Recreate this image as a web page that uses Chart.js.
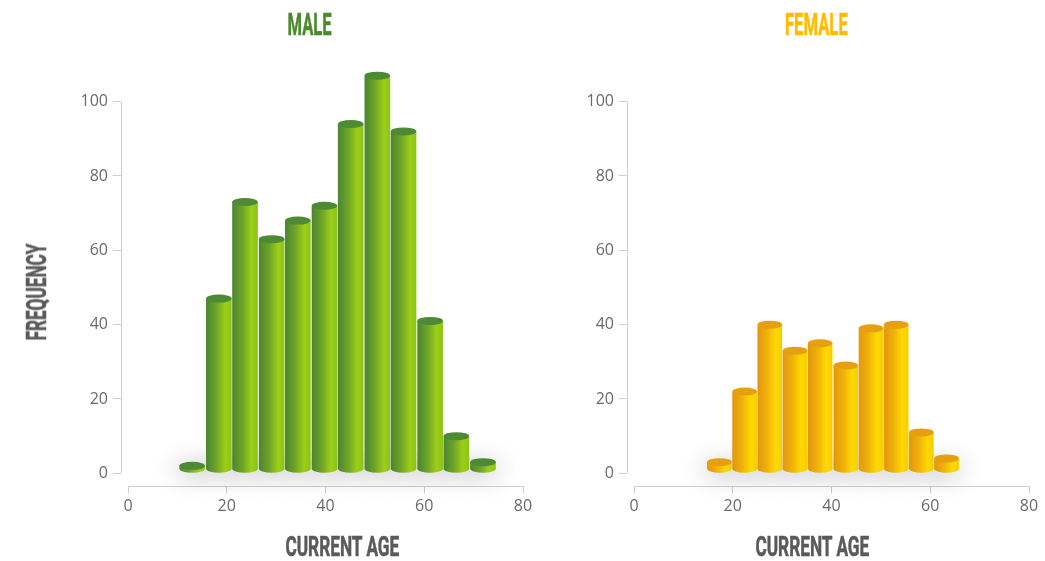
<!DOCTYPE html>
<html>
<head>
<meta charset="utf-8">
<script src="https://cdn.jsdelivr.net/npm/chart.js@4.4.0/dist/chart.umd.min.js"></script>
<style>
  html,body{margin:0;padding:0;background:#fff;}
  body{width:1045px;height:561px;overflow:hidden;position:relative;}
  canvas{position:absolute;top:0;}
  .lbl{position:absolute;font-family:Roboto,'DejaVu Sans',sans-serif;font-weight:700;white-space:nowrap;line-height:1;left:0;top:0;}
</style>
</head>
<body>
<canvas id="male" width="540" height="561" style="left:0px"></canvas>
<canvas id="female" width="523" height="561" style="left:522px"></canvas>
<script>
// ---------- data ----------
const maleBinCenters   = [13.0, 18.4, 23.7, 29.1, 34.4, 39.8, 45.1, 50.5, 55.8, 61.2, 66.5, 71.9];
const maleCounts       = [2, 47, 73, 63, 68, 72, 94, 107, 92, 41, 10, 3];
const femaleBinCenters = [17.3, 22.4, 27.5, 32.6, 37.7, 42.9, 48.0, 53.1, 58.2, 63.3];
const femaleCounts     = [3, 22, 40, 33, 35, 29, 39, 40, 11, 4];
const yTickValues = [0, 20, 40, 60, 80, 100];
const xTickValues = [0, 20, 40, 60, 80];

// ---------- styles ----------
const GREEN = {top:'#4e8a35', stops:[[0,'#4b8531'],[0.4,'#6ea428'],[0.75,'#9ccf17'],[1,'#8cc21a']]};
const GOLD  = {top:'#e6a00f', stops:[[0,'#e2960f'],[0.4,'#efb20b'],[0.75,'#ffd900'],[1,'#f6cc04']]};

Chart.defaults.font.family = "'Open Sans', sans-serif";
Chart.defaults.font.size = 16;
Chart.defaults.color = '#6a6a6a';

const cylinderPlugin = {
  id: 'cylinders',
  afterDatasetsDraw(chart) {
    const ctx = chart.ctx;
    const meta = chart.getDatasetMeta(0);
    const style = chart.options.plugins.cylinders.style;
    const ry = 4;
    // soft base shadow (shape drawn off-screen, only its shadow is visible)
    meta.data.forEach(bar => {
      const p = bar.getProps(['x','y','base','width'], true);
      ctx.save();
      ctx.shadowColor = 'rgba(0,0,0,0.22)';
      ctx.shadowBlur = 24;
      ctx.shadowOffsetX = 10000;
      ctx.shadowOffsetY = 2;
      ctx.fillStyle = '#000';
      ctx.beginPath();
      ctx.ellipse(p.x - 10000, p.base - 5, p.width/2 + 5, 8, 0, 0, Math.PI*2);
      ctx.fill();
      ctx.restore();
    });
    meta.data.forEach(bar => {
      const p = bar.getProps(['x','y','base','width'], true);
      const w = p.width, rx = w/2;
      const left = p.x - rx, right = p.x + rx;
      const top = p.y;
      const bottom = p.base - ry;
      const g = ctx.createLinearGradient(left, 0, right, 0);
      style.stops.forEach(s => g.addColorStop(s[0], s[1]));
      ctx.save();
      ctx.fillStyle = g;
      ctx.beginPath();
      ctx.moveTo(left, top);
      ctx.lineTo(left, bottom);
      ctx.ellipse(p.x, bottom, rx, ry, 0, Math.PI, 0, true);
      ctx.lineTo(right, top);
      ctx.closePath();
      ctx.fill();
      // top face
      ctx.fillStyle = style.top;
      ctx.beginPath();
      ctx.ellipse(p.x, top, rx, ry, 0, 0, Math.PI*2);
      ctx.fill();
      ctx.restore();
    });
  }
};

const axisLinePlugin = {
  id: 'axisLines',
  beforeDatasetsDraw(chart) {
    const {ctx, chartArea, scales:{x, y}} = chart;
    ctx.save();
    ctx.strokeStyle = '#cfcfcf';
    ctx.lineWidth = 1;
    ctx.beginPath();
    const ax = Math.round(chartArea.left) + 0.5;
    ctx.moveTo(ax, y.getPixelForValue(yTickValues[0]));
    ctx.lineTo(ax, y.getPixelForValue(yTickValues[yTickValues.length-1]));
    const ay = Math.round(chartArea.bottom) + 0.5;
    ctx.moveTo(x.getPixelForValue(xTickValues[0]), ay);
    ctx.lineTo(x.getPixelForValue(xTickValues[xTickValues.length-1]), ay);
    ctx.stroke();
    ctx.restore();
  }
};

function makeChart(id, centers, counts, style, yAxisWidth, padRight) {
  const pts = centers.map((c, i) => ({x: c, y: counts[i]}));
  return new Chart(document.getElementById(id), {
    type: 'bar',
    data: { datasets: [{ data: pts, backgroundColor: 'rgba(0,0,0,0)', borderWidth: 0,
                         barPercentage: 0.98, categoryPercentage: 1 }] },
    options: {
      responsive: false, animation: false,
      layout: { padding: { left: 0, right: padRight, top: 64.5, bottom: 45.3 } },
      plugins: { legend: {display:false}, tooltip: {enabled:false}, title:{display:false},
                 cylinders: { style } },
      scales: {
        x: {
          type: 'linear', min: -1.42, max: 80, offset: false,
          grid: { offset: false, drawOnChartArea: false, drawTicks: true, tickLength: 8, color: '#cfcfcf' },
          border: { display: false },
          ticks: { autoSkip: false, padding: 3, maxRotation: 0 },
          afterBuildTicks: s => { s.ticks = xTickValues.map(v => ({value: v})); },
          afterFit: s => { s.height = 30; }
        },
        y: {
          min: -3.34, max: 110,
          grid: { drawOnChartArea: false, drawTicks: true, tickLength: 8, color: '#cfcfcf' },
          border: { display: false },
          ticks: { padding: 5 },
          afterBuildTicks: s => { s.ticks = yTickValues.map(v => ({value: v})); },
          afterFit: s => { s.width = yAxisWidth; }
        }
      }
    },
    plugins: [axisLinePlugin, cylinderPlugin]
  });
}

makeChart('male', maleBinCenters, maleCounts, GREEN, 121, 17);
makeChart('female', femaleBinCenters, femaleCounts, GOLD, 105, 16);

// ---------- titles ----------
function placeLabel(text, cx, cy, size, color, targetW, rotate) {
  const el = document.createElement('div');
  el.className = 'lbl';
  el.textContent = text;
  el.style.fontSize = size + 'px';
  el.style.color = color;
  el.style.webkitTextStroke = '0.6px ' + color;
  document.body.appendChild(el);
  const w = el.offsetWidth, h = el.offsetHeight;
  const sx = targetW / w;
  el.style.left = (cx - w/2) + 'px';
  el.style.top = (cy - h/2) + 'px';
  el.style.transformOrigin = 'center center';
  el.style.transform = (rotate ? 'rotate(-90deg) ' : '') + 'scaleX(' + sx + ')';
}
placeLabel('MALE', 309, 24, 32, '#4a8a2c', 44, false);
placeLabel('FEMALE', 816.5, 24, 32, '#ffbb00', 63, false);
placeLabel('FREQUENCY', 37, 292, 28, '#5a5a5a', 97, true);
placeLabel('CURRENT AGE', 342, 547, 28, '#5a5a5a', 114, false);
placeLabel('CURRENT AGE', 812, 547, 28, '#5a5a5a', 114, false);
</script>
</body>
</html>
